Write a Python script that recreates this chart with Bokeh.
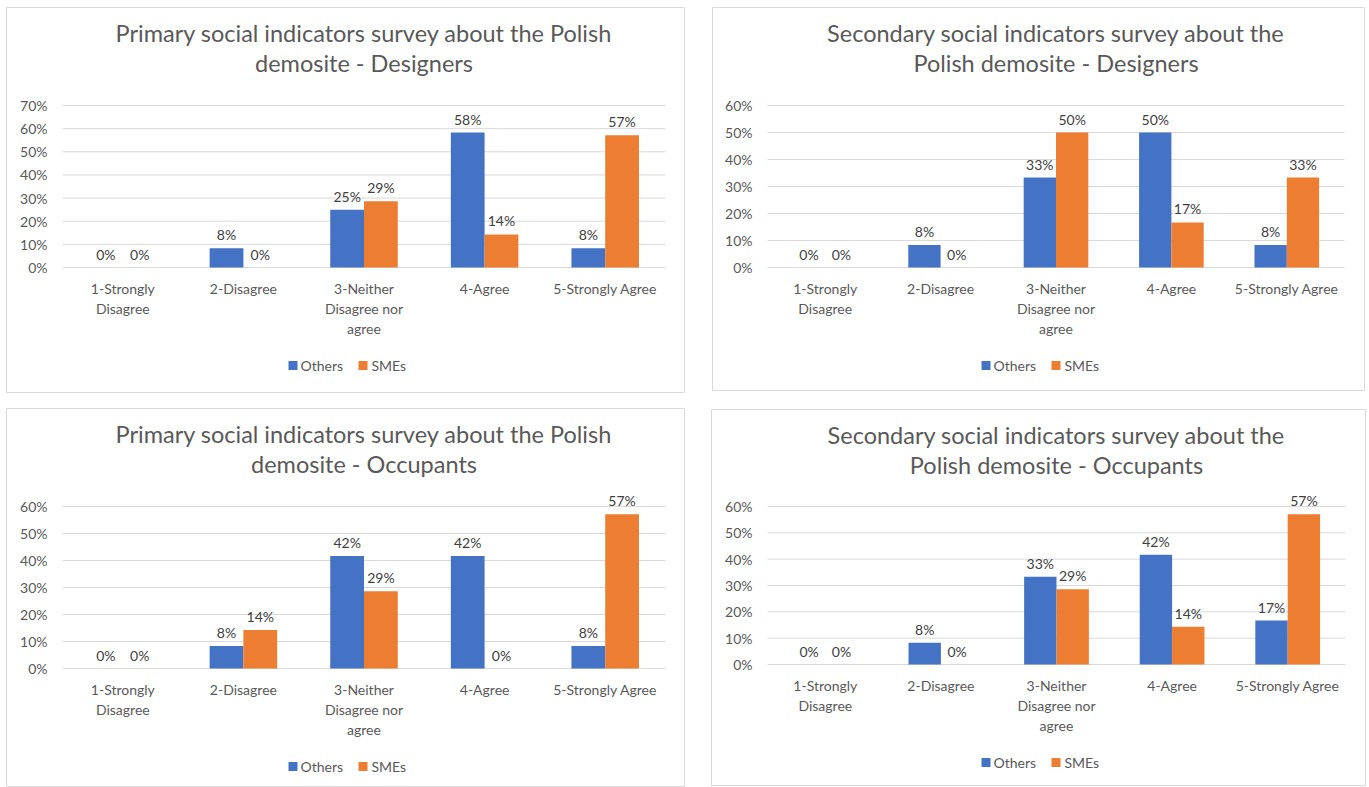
from bokeh.plotting import figure
from bokeh.models import ColumnDataSource, Range1d
from bokeh.transform import dodge
from bokeh.core.properties import value
from bokeh.embed import file_html
from bokeh.resources import INLINE

# ---------------- data ----------------
categories = ["1-Strongly Disagree", "2-Disagree", "3-Neither Disagree nor agree",
              "4-Agree", "5-Strongly Agree"]
tick_labels = ["1-Strongly\nDisagree", "2-Disagree", "3-Neither\nDisagree nor\nagree",
               "4-Agree", "5-Strongly Agree"]
series = ["Others", "SMEs"]

primary_designers_others = [0.0, 0.083, 0.25, 0.583, 0.083]
primary_designers_smes = [0.0, 0.0, 0.286, 0.143, 0.571]
secondary_designers_others = [0.0, 0.083, 0.333, 0.5, 0.083]
secondary_designers_smes = [0.0, 0.0, 0.5, 0.167, 0.333]
primary_occupants_others = [0.0, 0.083, 0.417, 0.417, 0.083]
primary_occupants_smes = [0.0, 0.143, 0.286, 0.0, 0.571]
secondary_occupants_others = [0.0, 0.083, 0.333, 0.417, 0.167]
secondary_occupants_smes = [0.0, 0.0, 0.286, 0.143, 0.571]

y_ticks_70 = [0, 0.1, 0.2, 0.3, 0.4, 0.5, 0.6, 0.7]
y_ticks_60 = [0, 0.1, 0.2, 0.3, 0.4, 0.5, 0.6]
y_tick_labels_70 = ["0%", "10%", "20%", "30%", "40%", "50%", "60%", "70%"]
y_tick_labels_60 = ["0%", "10%", "20%", "30%", "40%", "50%", "60%"]

titles = [
    ("Primary social indicators survey about the Polish", "demosite - Designers"),
    ("Secondary social indicators survey about the", "Polish demosite - Designers"),
    ("Primary social indicators survey about the Polish", "demosite - Occupants"),
    ("Secondary social indicators survey about the", "Polish demosite - Occupants"),
]

panels = [
    (titles[0], primary_designers_others, primary_designers_smes, y_ticks_70, y_tick_labels_70),
    (titles[1], secondary_designers_others, secondary_designers_smes, y_ticks_60, y_tick_labels_60),
    (titles[2], primary_occupants_others, primary_occupants_smes, y_ticks_60, y_tick_labels_60),
    (titles[3], secondary_occupants_others, secondary_occupants_smes, y_ticks_60, y_tick_labels_60),
]

# ---------------- layout (page pixels) ----------------
W, H = 1369, 787
# panel frame boxes: left, right, top, bottom
boxes = [(6, 684, 7, 392), (712, 1364, 7, 390), (6, 684, 408, 786), (711, 1365, 409, 785)]
# plot areas: left, right, zero-line y, top-gridline y
areas = [(62, 665, 267, 105), (767, 1344, 267, 105), (62, 665, 668, 506), (767, 1345, 664, 506)]

BLUE = "#4472C4"
ORANGE = "#ED7D31"
TXT = "#595959"
LBL = "#404040"
GRID = "#D9D9D9"
FONT = "Lato"

p = figure(width=W, height=H, output_backend="svg", toolbar_location=None,
           title=None, x_axis_location=None, y_axis_location=None,
           x_range=Range1d(0, W), y_range=Range1d(H, 0), min_border=0)
p.outline_line_color = None
p.grid.visible = False
p.background_fill_color = "white"
p.border_fill_color = "white"

# panel borders
p.quad(left=[b[0] for b in boxes], right=[b[1] for b in boxes],
       top=[b[2] for b in boxes], bottom=[b[3] for b in boxes],
       fill_color=None, line_color="#D9D9D9", line_width=1)


def pct(v):
    return f"{round(v * 100)}%"


pos = list(range(1, len(categories) + 1))

for k, (ttl, others, smes, yticks, ylabels) in enumerate(panels):
    L, R, Z, T = areas[k]
    bl, br, bt, bb = boxes[k]
    ymax = yticks[-1]
    ux = len(categories) / (R - L)
    uy = ymax / (Z - T)
    xn, yn = f"x{k}", f"y{k}"
    p.extra_x_ranges[xn] = Range1d(0.5 - L * ux, len(categories) + 0.5 + (W - R) * ux)
    p.extra_y_ranges[yn] = Range1d(-(H - Z) * uy, ymax + T * uy)

    src = ColumnDataSource(dict(
        x=pos, others=others, smes=smes,
        others_lbl=[pct(v) for v in others],
        smes_lbl=[pct(v) for v in smes],
        cat_lbl=tick_labels, zero=[0] * len(pos),
    ))
    tsrc = ColumnDataSource(dict(y=yticks, lbl=ylabels,
                                 x0=[0.5] * len(yticks),
                                 x1=[len(categories) + 0.5] * len(yticks)))

    # gridlines
    p.segment(x0="x0", x1="x1", y0="y", y1="y", source=tsrc, line_color=GRID,
              line_width=1, x_range_name=xn, y_range_name=yn)
    # y tick labels
    p.text(x="x0", y="y", text="lbl", source=tsrc, x_offset=-15, text_align="right",
           text_baseline="middle", text_font=value(FONT), text_font_size="14px",
           text_color=TXT, x_range_name=xn, y_range_name=yn)

    # bars
    p.vbar(x=dodge("x", -0.14), top="others", width=0.28, source=src,
           fill_color=BLUE, line_color=None, x_range_name=xn, y_range_name=yn)
    p.vbar(x=dodge("x", 0.14), top="smes", width=0.28, source=src,
           fill_color=ORANGE, line_color=None, x_range_name=xn, y_range_name=yn)

    # data labels
    p.text(x=dodge("x", -0.14), y="others", text="others_lbl", source=src,
           text_align="center", text_baseline="bottom", y_offset=-5,
           text_font=value(FONT), text_font_size="14px", text_color=LBL,
           x_range_name=xn, y_range_name=yn)
    p.text(x=dodge("x", 0.14), y="smes", text="smes_lbl", source=src,
           text_align="center", text_baseline="bottom", y_offset=-5,
           text_font=value(FONT), text_font_size="14px", text_color=LBL,
           x_range_name=xn, y_range_name=yn)

    # category labels
    p.text(x="x", y="zero", text="cat_lbl", source=src, y_offset=12,
           text_align="center", text_baseline="top", text_line_height=1.18,
           text_font=value(FONT), text_font_size="14px", text_color=TXT,
           x_range_name=xn, y_range_name=yn)

    # title (two lines, centred over the plot area)
    cx = (L + R) / 2
    p.text(x=[cx, cx], y=[bt + 25, bt + 55], text=list(ttl), text_align="center",
           text_baseline="middle", text_font=value(FONT), text_font_size="23.5px",
           text_color=TXT)

    # legend
    lc = (bl + br) / 2
    ly = Z + 98
    p.rect(x=[lc - 52.5, lc + 17.5], y=[ly, ly], width=9, height=9,
           width_units="screen", height_units="screen",
           fill_color=[BLUE, ORANGE], line_color=None)
    p.text(x=[lc - 45, lc + 26], y=[ly, ly], text=series, text_align="left",
           text_baseline="middle", text_font=value(FONT), text_font_size="14px",
           text_color=TXT)

open("out.html", "w").write(file_html(p, INLINE))
